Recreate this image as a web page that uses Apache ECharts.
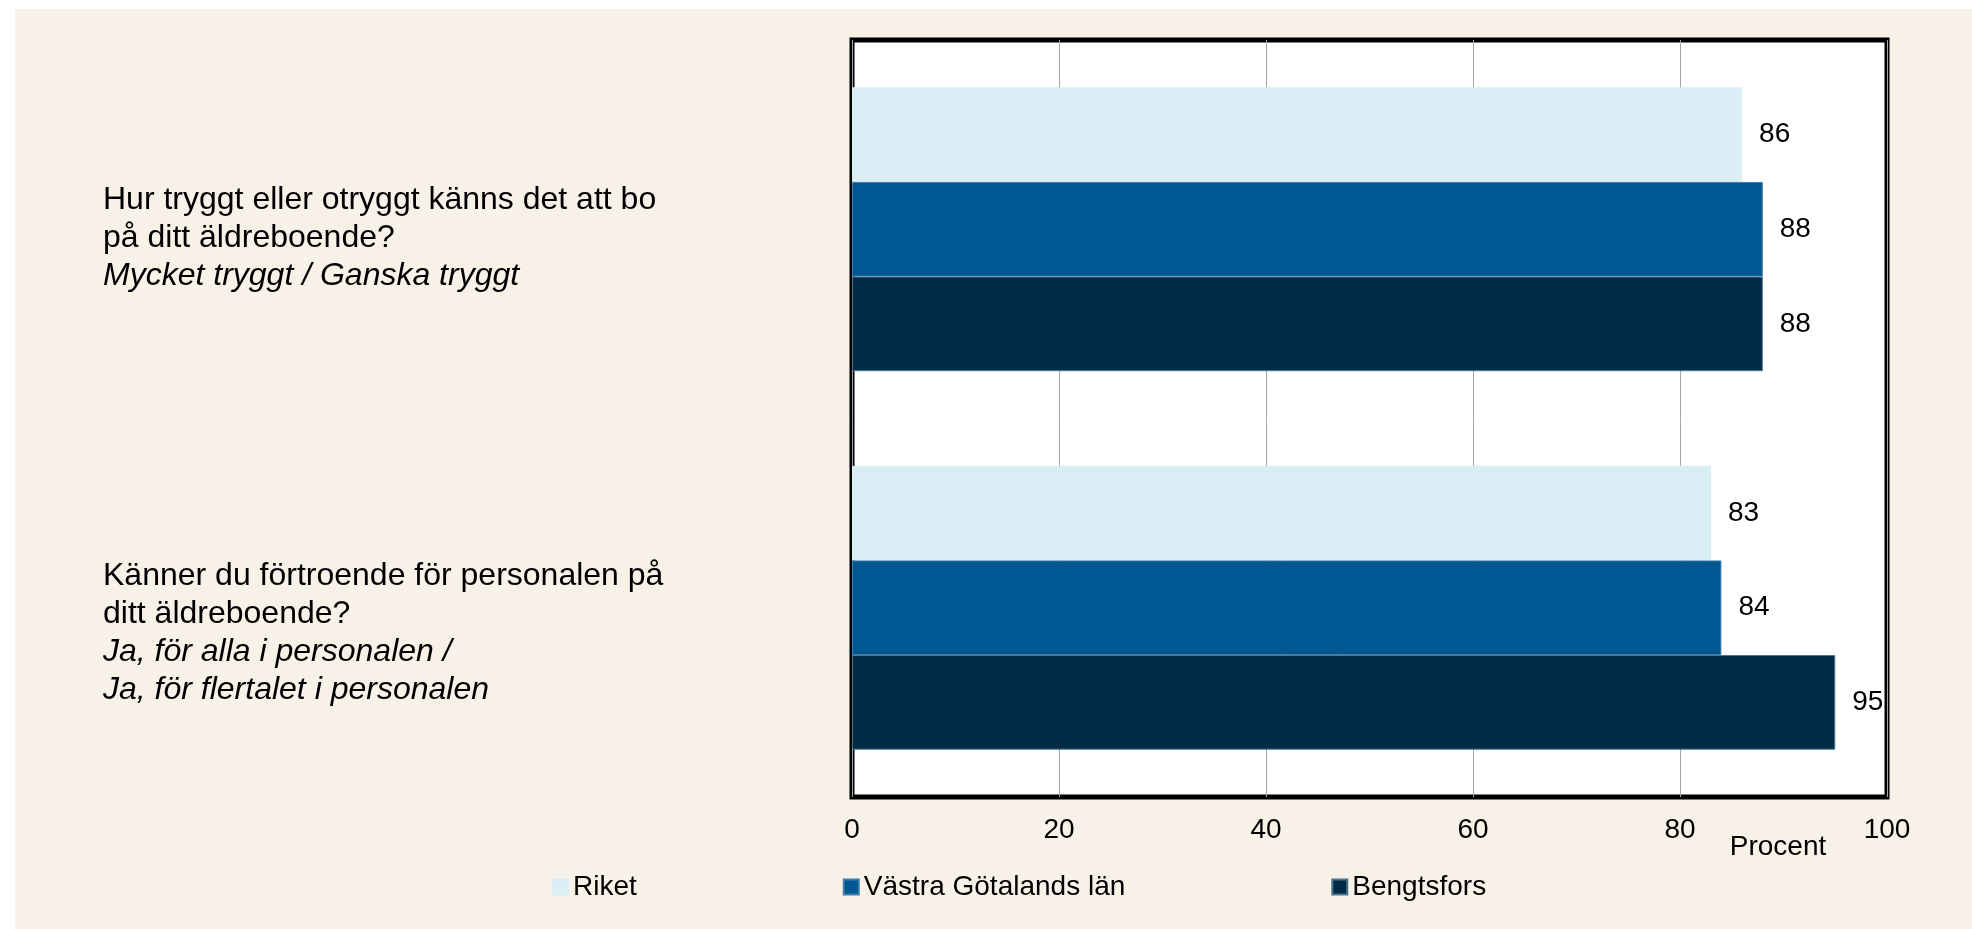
<!DOCTYPE html>
<html>
<head>
<meta charset="utf-8">
<script src="https://cdn.jsdelivr.net/npm/echarts@6/dist/echarts.min.js"></script>
<style>
  html, body { margin: 0; padding: 0; background: #ffffff; }
  #bg { position: absolute; left: 15px; top: 9px; right: 0; bottom: 0; background: #F7F1E8; }
  #chart { position: absolute; left: 0; top: 0; width: 1972px; height: 929px; }
</style>
</head>
<body>
<div id="bg"></div>
<div id="chart"></div>
<script>
// ---- data ----
const categories = [
  'Hur tryggt eller otryggt känns det att bo på ditt äldreboende?',
  'Känner du förtroende för personalen på ditt äldreboende?'
];
const questionLines = [
  ['Hur tryggt eller otryggt känns det att bo', 'på ditt äldreboende?'],
  ['Känner du förtroende för personalen på', 'ditt äldreboende?']
];
const answerLines = [
  ['Mycket tryggt / Ganska tryggt'],
  ['Ja, för alla i personalen /', 'Ja, för flertalet i personalen']
];
const seriesNames = ['Riket', 'Västra Götalands län', 'Bengtsfors'];
const riket = [86, 83];
const vastraGotaland = [88, 84];
const bengtsfors = [88, 95];
const xTicks = [0, 20, 40, 60, 80, 100];
const axisTitle = 'Procent';

// ---- styling ----
const FONT = '"Liberation Sans", Arial, sans-serif';
const colors = ['#DAEEF5', '#005892', '#002B45'];
const borderColors = ['#DAEEF5', '#3F7DAA', '#4B7592'];
const spacer = [17, 50];

const chart = echarts.init(document.getElementById('chart'), null, { renderer: 'canvas' });

function makeSeries(name, data, i) {
  return {
    name: name,
    type: 'bar',
    data: data,
    barGap: '0%',
    barCategoryGap: '25%',
    itemStyle: { color: colors[i], borderColor: borderColors[i], borderWidth: 1 },
    label: {
      show: true,
      position: 'right',
      distance: 17,
      color: '#000',
      fontFamily: FONT,
      fontSize: 28
    }
  };
}

const option = {
  backgroundColor: 'transparent',
  animation: false,
  textStyle: { fontFamily: FONT },
  legend: {
    data: seriesNames,
    left: 547,
    top: 868,
    itemWidth: 15,
    itemHeight: 15,
    itemGap: 206,
    icon: 'rect',
    textStyle: { fontFamily: FONT, fontSize: 28, color: '#000' }
  },
  grid: {
    left: 852,
    right: 85,
    top: 40,
    bottom: 132,
    show: true,
    backgroundColor: '#ffffff',
    borderColor: '#000000',
    borderWidth: 5
  },
  xAxis: {
    type: 'value',
    min: xTicks[0],
    max: xTicks[xTicks.length - 1],
    interval: xTicks[1] - xTicks[0],
    name: axisTitle,
    nameLocation: 'end',
    nameGap: -109,
    nameMoveOverlap: false,
    nameTextStyle: {
      fontFamily: FONT, fontSize: 28, color: '#000',
      align: 'center', verticalAlign: 'top', padding: [36, 0, 0, 0]
    },
    axisLine: { show: false },
    axisTick: { show: false },
    axisLabel: { margin: 19, color: '#000', fontFamily: FONT, fontSize: 28 },
    splitLine: { show: true, lineStyle: { color: '#A6A6A6', width: 1 } }
  },
  yAxis: {
    type: 'category',
    inverse: true,
    data: categories,
    axisLine: { show: false },
    axisTick: { show: false },
    splitLine: { show: false },
    axisLabel: {
      margin: 749,
      align: 'left',
      verticalAlign: 'middle',
      formatter: function (value, index) {
        const parts = ['{sp' + index + '| }'];
        questionLines[index].forEach(l => parts.push('{q|' + l + '}'));
        answerLines[index].forEach(l => parts.push('{a|' + l + '}'));
        return parts.join('\n');
      },
      rich: {
        sp0: { fontSize: 1, lineHeight: spacer[0] },
        sp1: { fontSize: 1, lineHeight: spacer[1] },
        q: { fontFamily: FONT, fontSize: 32, lineHeight: 38, color: '#000' },
        a: { fontFamily: FONT, fontSize: 32, lineHeight: 38, color: '#000', fontStyle: 'italic' }
      }
    }
  },
  series: [
    makeSeries(seriesNames[0], riket, 0),
    makeSeries(seriesNames[1], vastraGotaland, 1),
    makeSeries(seriesNames[2], bengtsfors, 2)
  ]
};

chart.setOption(option);
</script>
</body>
</html>
